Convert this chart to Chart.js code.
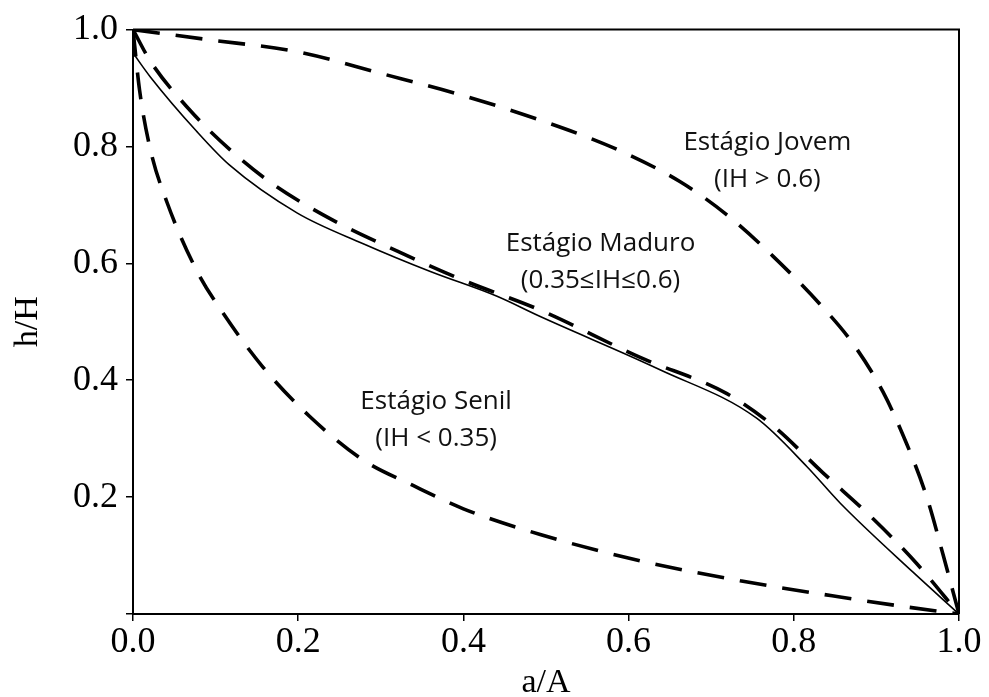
<!DOCTYPE html>
<html>
<head>
<meta charset="utf-8">
<script src="https://cdn.jsdelivr.net/npm/chart.js@4.4.0/dist/chart.umd.min.js"></script>
<style>
  body { margin: 0; background: #fff; }
  #wrap { width: 989px; height: 697px; }
</style>
</head>
<body>
<div id="wrap"><canvas id="hypsoChart" width="989" height="697"></canvas></div>
<script>
// curve values (a/A, h/H)
const jovemX = [0, 0.09, 0.199, 0.303, 0.40, 0.493, 0.586, 0.662, 0.719, 0.775, 0.835, 0.872, 0.908, 0.937, 0.961, 0.981, 1.0];
const jovemY = [1.0, 0.983, 0.962, 0.924, 0.887, 0.845, 0.795, 0.740, 0.683, 0.612, 0.525, 0.462, 0.38, 0.29, 0.20, 0.10, 0.0];

const maduroX = [0, 0.021, 0.069, 0.117, 0.166, 0.238, 0.32, 0.40, 0.493, 0.614, 0.719, 0.775, 0.835, 0.896, 0.949, 1.0];
const maduroY = [1.0, 0.946, 0.862, 0.795, 0.739, 0.677, 0.621, 0.571, 0.52, 0.439, 0.377, 0.322, 0.242, 0.163, 0.086, 0.0];

const solidX = [0, 0.021, 0.077, 0.117, 0.199, 0.278, 0.36, 0.44, 0.493, 0.638, 0.755, 0.816, 0.856, 0.944, 1.0];
const solidY = [0.96, 0.919, 0.826, 0.768, 0.686, 0.634, 0.586, 0.544, 0.509, 0.418, 0.335, 0.252, 0.19, 0.072, 0.0];

const senilX = [0, 0.008, 0.021, 0.041, 0.077, 0.109, 0.157, 0.214, 0.278, 0.339, 0.40, 0.493, 0.614, 0.735, 0.856, 0.937, 1.0];
const senilY = [1.0, 0.896, 0.795, 0.705, 0.588, 0.515, 0.423, 0.338, 0.264, 0.22, 0.18, 0.136, 0.091, 0.057, 0.029, 0.012, 0.0];

const tickValues = [0, 0.2, 0.4, 0.6, 0.8, 1.0];

// stage labels, placed in data coordinates
const stageLabels = [
  { lines: ["Estágio Jovem", "(IH > 0.6)"], x: 0.768, y: 0.806 },
  { lines: ["Estágio Maduro", "(0.35\u2264IH\u22640.6)"], x: 0.566, y: 0.633 },
  { lines: ["Estágio Senil", "(IH < 0.35)"], x: 0.367, y: 0.364 },
];

const toPoints = (xs, ys) => xs.map((x, i) => ({ x: x, y: ys[i] }));

const frameAndLabels = {
  id: "frameAndLabels",
  afterDatasetsDraw(chart) {
    const { ctx, chartArea, scales } = chart;
    ctx.save();
    // top and right frame lines
    ctx.strokeStyle = "#000";
    ctx.lineWidth = 2;
    ctx.beginPath();
    ctx.moveTo(chartArea.left, chartArea.top);
    ctx.lineTo(chartArea.right, chartArea.top);
    ctx.lineTo(chartArea.right, chartArea.bottom);
    ctx.stroke();

    ctx.fillStyle = "#111";
    ctx.font = '26px "Open Sans"';
    ctx.textAlign = "center";
    ctx.textBaseline = "middle";
    stageLabels.forEach((lab) => {
      const px = scales.x.getPixelForValue(lab.x);
      const py = scales.y.getPixelForValue(lab.y);
      lab.lines.forEach((t, i) => ctx.fillText(t, px, py + i * 37));
    });
    ctx.restore();
  },
};

const dashedStyle = {
  borderColor: "#000",
  borderWidth: 3.6,
  borderDash: [27, 16],
  pointRadius: 0,
  fill: false,
  cubicInterpolationMode: "monotone",
};

new Chart(document.getElementById("hypsoChart"), {
  type: "line",
  data: {
    datasets: [
      { label: "Jovem", data: toPoints(jovemX, jovemY), ...dashedStyle },
      { label: "Maduro", data: toPoints(maduroX, maduroY), ...dashedStyle },
      { label: "Senil", data: toPoints(senilX, senilY), ...dashedStyle },
      {
        label: "Curva",
        data: toPoints(solidX, solidY),
        borderColor: "#000",
        borderWidth: 1.6,
        pointRadius: 0,
        fill: false,
        cubicInterpolationMode: "monotone",
      },
    ],
  },
  options: {
    responsive: false,
    animation: false,
    layout: { padding: { top: 20, right: 30, left: 0, bottom: 0 } },
    plugins: {
      legend: { display: false },
      tooltip: { enabled: false },
    },
    scales: {
      x: {
        type: "linear",
        min: 0,
        max: 1,
        afterBuildTicks: (scale) => { scale.ticks = tickValues.map((v) => ({ value: v })); },
        afterFit: (scale) => { scale.height = 83; },
        ticks: {
          callback: (v) => v.toFixed(1),
          color: "#000",
          font: { family: '"Liberation Serif", serif', size: 36 },
          padding: 0,
          maxRotation: 0,
        },
        grid: { drawOnChartArea: false, color: "#000", lineWidth: 1.5, tickLength: 7 },
        border: { color: "#000", width: 2 },
        title: {
          display: true,
          text: "a/A",
          color: "#000",
          font: { family: '"Liberation Serif", serif', size: 34, lineHeight: 0.8 },
          padding: 0,
        },
      },
      y: {
        type: "linear",
        min: 0,
        max: 1,
        afterBuildTicks: (scale) => { scale.ticks = tickValues.map((v) => ({ value: v })); },
        afterFit: (scale) => { scale.width = 133; },
        ticks: {
          callback: (v) => (v === 0 ? "" : v.toFixed(1)),
          color: "#000",
          font: { family: '"Liberation Serif", serif', size: 36 },
          padding: 8,
        },
        grid: { drawOnChartArea: false, color: "#000", lineWidth: 1.5, tickLength: 7 },
        border: { color: "#000", width: 2 },
        title: {
          display: true,
          text: "h/H",
          color: "#000",
          font: { family: '"Liberation Serif", serif', size: 34 },
          padding: { top: 8 },
        },
      },
    },
  },
  plugins: [frameAndLabels],
});
</script>
</body>
</html>
